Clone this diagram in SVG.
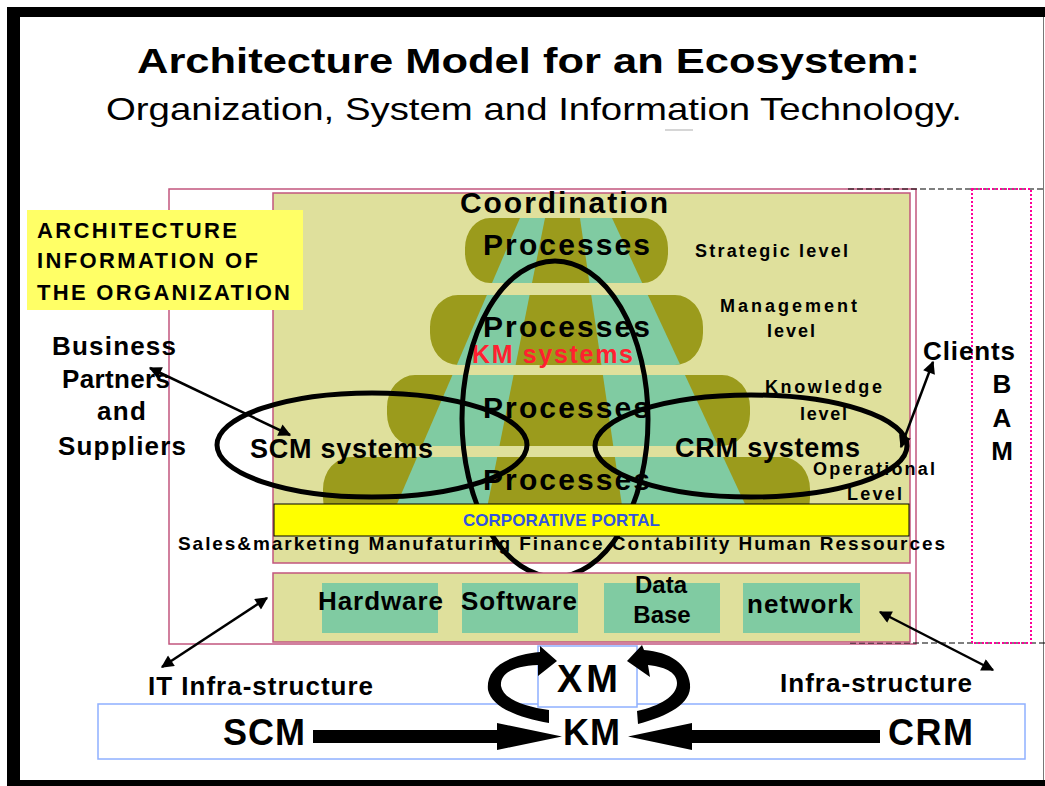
<svg xmlns="http://www.w3.org/2000/svg" width="1045" height="786" viewBox="0 0 1045 786">
<defs>
<style>
.b{font-family:"Liberation Sans",Arial,sans-serif;font-weight:bold;fill:#000}
.r{font-family:"Liberation Sans",Arial,sans-serif;fill:#000}
.pk{fill:none;stroke:#c2567e;stroke-width:1.5}
.pan{fill:#dfe09c;stroke:#c2567e;stroke-width:1.5}
.olive{fill:#9b9b1c}
.teal{fill:#80cba2}
.ell{fill:none;stroke:#000;stroke-width:5}
.thin{fill:none;stroke:#000;stroke-width:2.5;marker-start:url(#ah);marker-end:url(#ah)}
.gbox{fill:#80cba2}
.bl{fill:none;stroke:#8fb0ff;stroke-width:1.5}
</style>
<marker id="ah" viewBox="0 0 10 10" refX="9" refY="5" markerWidth="6" markerHeight="5" markerUnits="strokeWidth" orient="auto-start-reverse">
<path d="M0,0 L10,5 L0,10 Z" fill="#000"/>
</marker>
<clipPath id="bars">
<rect x="465" y="218" width="203" height="65" rx="25" ry="30"/>
<rect x="430" y="295" width="273" height="70" rx="28" ry="32"/>
<rect x="387" y="375" width="363" height="71" rx="28" ry="32"/>
<rect x="323" y="457" width="487" height="73" rx="28" ry="32"/>
</clipPath>
</defs>
<rect x="0" y="0" width="1045" height="786" fill="#fff"/>
<g id="frame">
<rect x="7" y="7" width="1038" height="10" fill="#000"/>
<rect x="7" y="7" width="13" height="779" fill="#000"/>
<rect x="7" y="780" width="1038" height="6" fill="#000"/>
<line x1="1043.5" y1="17" x2="1043.5" y2="780" stroke="#777" stroke-width="1"/>
</g>
<g id="title">
<text class="b" x="137" y="73" font-size="35" textLength="783" lengthAdjust="spacingAndGlyphs">Architecture Model for an Ecosystem:</text>
<text class="r" x="106" y="120" font-size="32" textLength="856" lengthAdjust="spacingAndGlyphs">Organization, System and Information Technology.</text>
<line x1="665" y1="130" x2="693" y2="130" stroke="#c8c8c8" stroke-width="1.5"/>
</g>
<g id="outer-frame">
<rect class="pk" x="169" y="189" width="747" height="455"/>
<path d="M848,189 H1045 M850,643 H1045" stroke="#000" stroke-width="1.2" stroke-dasharray="6,3" fill="none"/>
</g>
<g id="bam">
<rect x="972" y="189" width="59" height="454" fill="none" stroke="#ff0099" stroke-width="2" stroke-dasharray="2,2"/>
<text class="b" x="1002" y="393" font-size="26" text-anchor="middle">B</text>
<text class="b" x="1002" y="427" font-size="26" text-anchor="middle">A</text>
<text class="b" x="1002" y="460" font-size="26" text-anchor="middle">M</text>
</g>
<g id="org-panel">
<rect class="pan" x="273" y="193" width="637" height="370"/>
<g clip-path="url(#bars)">
<rect class="olive" x="300" y="210" width="540" height="330"/>
<polygon class="teal" points="523.4,210 546.6,210 480.6,540 381.5,540"/>
<polygon class="teal" points="578.8,210 608.3,210 761.7,540 627,540"/>
</g>
<text class="b" x="460" y="213" font-size="30" textLength="208">Coordination</text>
<text class="b" x="483" y="255" font-size="30" textLength="167">Processes</text>
<text class="b" x="483" y="337" font-size="30" textLength="167">Processes</text>
<text class="b" x="472" y="363" font-size="25" textLength="161" style="fill:#ff2030">KM systems</text>
<text class="b" x="483" y="418" font-size="30" textLength="167">Processes</text>
<text class="b" x="483" y="490" font-size="30" textLength="167">Processes</text>
<text class="b" x="695" y="257" font-size="18" textLength="153">Strategic level</text>
<text class="b" x="720" y="312" font-size="18" textLength="137">Management</text>
<text class="b" x="767" y="337" font-size="18" textLength="48">level</text>
<text class="b" x="765" y="393" font-size="18" textLength="117">Knowledge</text>
<text class="b" x="800" y="420" font-size="18" textLength="47">level</text>
<text class="b" x="813" y="475" font-size="18" textLength="122">Operational</text>
<text class="b" x="847" y="500" font-size="18" textLength="55">Level</text>
</g>
<g id="arch-label">
<rect x="27" y="210" width="276" height="100" fill="#ffff66"/>
<text class="b" x="37" y="238" font-size="22" textLength="200">ARCHITECTURE</text>
<text class="b" x="37" y="268" font-size="22" textLength="221">INFORMATION OF</text>
<text class="b" x="37" y="300" font-size="22" textLength="253">THE ORGANIZATION</text>
</g>
<g id="scm-systems">
<text class="b" x="250" y="458" font-size="27" textLength="183">SCM systems</text>
<ellipse class="ell" cx="372" cy="445" rx="155" ry="52"/>
</g>
<g id="crm-systems">
<text class="b" x="675" y="457" font-size="27" textLength="185">CRM systems</text>
<ellipse class="ell" cx="751" cy="446" rx="156" ry="51"/>
</g>
<g id="sales">
<text class="b" x="178" y="550" font-size="19" textLength="767">Sales&amp;marketing Manufaturing Finance Contability Human Ressources</text>
</g>
<g id="km-systems">
<ellipse class="ell" cx="555" cy="419" rx="93" ry="158"/>
</g>
<g id="portal">
<rect x="274" y="504" width="635" height="32" fill="#ffff00" stroke="#000" stroke-width="1"/>
<text class="b" x="463" y="526" font-size="17" textLength="197" style="fill:#3355dd">CORPORATIVE PORTAL</text>
</g>
<g id="it-panel">
<rect class="pan" x="273" y="573" width="637" height="69"/>
<rect class="gbox" x="322" y="583" width="116" height="50"/>
<rect class="gbox" x="462" y="583" width="116" height="50"/>
<rect class="gbox" x="604" y="583" width="116" height="50"/>
<rect class="gbox" x="743" y="583" width="117" height="50"/>
<text class="b" x="318" y="610" font-size="26" textLength="125">Hardware</text>
<text class="b" x="461" y="610" font-size="26" textLength="116">Software</text>
<text class="b" x="661" y="593" font-size="24" text-anchor="middle">Data</text>
<text class="b" x="662" y="623" font-size="24" text-anchor="middle">Base</text>
<text class="b" x="747" y="613" font-size="26" textLength="106">network</text>
</g>
<g id="partners">
<text class="b" x="52" y="355" font-size="26" textLength="124">Business</text>
<text class="b" x="62" y="388" font-size="26" textLength="108">Partners</text>
<text class="b" x="97" y="420" font-size="26" textLength="49">and</text>
<text class="b" x="58" y="455" font-size="26" textLength="128">Suppliers</text>
</g>
<g id="clients">
<text class="b" x="923" y="360" font-size="26" textLength="92">Clients</text>
</g>
<g id="infra-labels">
<text class="b" x="148" y="695" font-size="26" textLength="225">IT Infra-structure</text>
<text class="b" x="780" y="692" font-size="26" textLength="192">Infra-structure</text>
</g>
<g id="ecosystem">
<rect class="bl" x="98" y="704" width="927" height="55"/>
<rect class="bl" x="538" y="646" width="99" height="61" style="fill:#fff"/>
<text class="b" x="557" y="692" font-size="38" textLength="61">XM</text>
<text class="b" x="563" y="745" font-size="36" textLength="57">KM</text>
<text class="b" x="223" y="745" font-size="36" textLength="82">SCM</text>
<text class="b" x="888" y="745" font-size="36" textLength="85">CRM</text>
</g>
<g id="connectors">
<line class="thin" x1="150" y1="368" x2="290" y2="435"/>
<line class="thin" x1="901" y1="447" x2="933" y2="362"/>
<line class="thin" x1="162" y1="667" x2="267" y2="598"/>
<line class="thin" x1="880" y1="612" x2="993" y2="670"/>
<path d="M313,730 H497 V723 L562,736.5 L497,750 V743 H313 Z" fill="#000"/>
<path d="M880,730 H692 V723 L628,736.5 L692,750 V743 H880 Z" fill="#000"/>
<path d="M549,723 C520,718 492,708 488,690 C486,672 500,656 540,652 L540,646 L557,661 L538,676 L538,665 C512,666 500,674 501,686 C503,699 525,707 549,710 Z" fill="#000"/>
<path d="M638,724 C668,716 692,704 690,684 C688,664 670,652 644,650 L642,645 L627,661 L650,677 L648,665 C668,667 677,674 677,683 C677,696 660,706 637,711 Z" fill="#000"/>
</g>
</svg>
